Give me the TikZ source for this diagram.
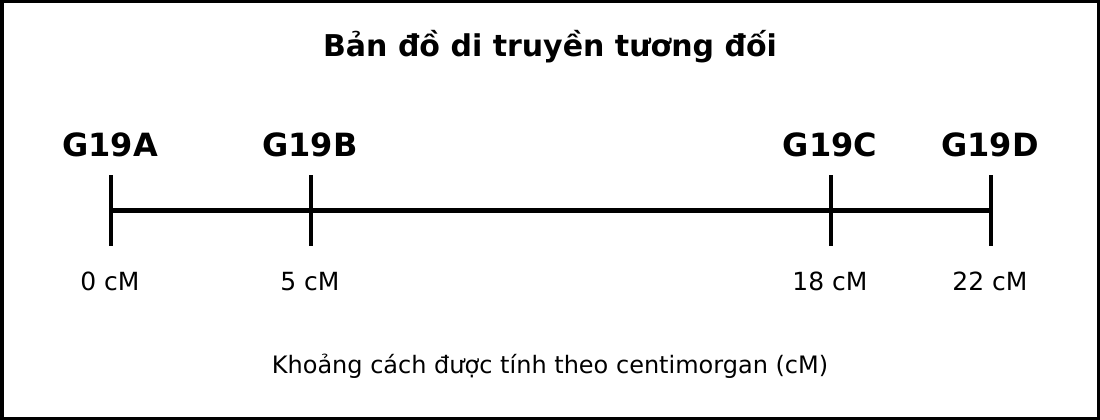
\documentclass[tikz,border=0pt]{standalone}
\usepackage{fontspec}
\setmainfont{DejaVu Sans}
\usetikzlibrary{calc}

\tikzset{
  genelabel/.style={font=\bfseries\fontsize{32}{34}\selectfont, anchor=base},
  distlabel/.style={font=\fontsize{25}{27}\selectfont, anchor=base},
  tickmark/.style={line width=4pt},
}

\begin{document}
\begin{tikzpicture}[x=1pt, y=-1pt]
  % frame
  \draw[line width=3.5pt] (1.75,1.75) rectangle (1098.25,418.25);
  % title
  \node[font=\bfseries\fontsize{30}{32}\selectfont, anchor=base] (title) at (550,57) {Bản đồ di truyền tương đối};
  % loci on the map
  \foreach \x/\name/\gene/\dist in {110/a/G19A/0, 310/b/G19B/5, 830/c/G19C/18, 990/d/G19D/22} {
    \coordinate (p\name) at (\x+1,210.5);
    \draw[tickmark] ($(p\name)+(0,-35.5)$) -- ($(p\name)+(0,35.5)$);
    \node[genelabel] (gene\name) at (\x,156) {\gene};
    \node[distlabel] (dist\name) at (\x,290) {\dist\ cM};
  }
  % axis
  \draw[line width=5pt] (pa) -- (pd);
  % caption
  \node[font=\fontsize{24}{26}\selectfont, anchor=base] (caption) at (550,373) {Khoảng cách được tính theo centimorgan (cM)};
\end{tikzpicture}
\end{document}
